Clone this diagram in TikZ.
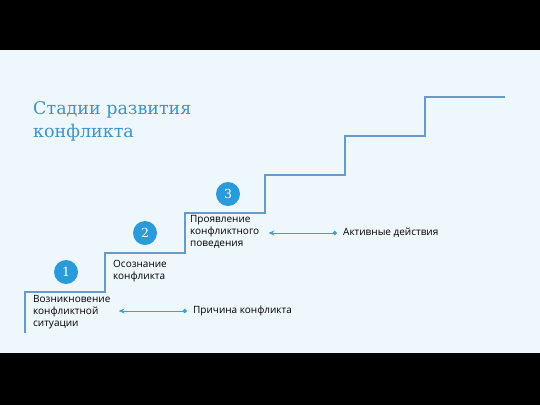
\documentclass[tikz,border=0pt]{standalone}
\usepackage{fontspec}
\setmainfont{Open Sans}
\newfontfamily\titlefont{DejaVu Serif}
\usetikzlibrary{arrows.meta,positioning}
\definecolor{bgcol}{HTML}{EEF8FC}
\definecolor{stair}{HTML}{6A9ACB}
\definecolor{badgecol}{HTML}{2A9BDA}
\definecolor{titlecol}{HTML}{3D94CC}
\definecolor{pointer}{HTML}{3AA3DB}
\tikzstyle{title}=[anchor=north west,inner sep=0pt,align=left,text=titlecol,font=\titlefont\fontsize{17.5}{23}\selectfont]
\tikzstyle{stage}=[anchor=north west,inner sep=0pt,align=left,font=\fontsize{10}{12}\selectfont]
\tikzstyle{cause}=[anchor=west,inner sep=0pt,font=\fontsize{10}{12}\selectfont]
\tikzstyle{badge}=[circle,fill=badgecol,text=white,inner sep=0pt,minimum size=24pt,font=\titlefont\fontsize{12.5}{12.5}\selectfont]
\tikzstyle{link}=[pointer,line width=1pt,{Circle[length=4.5pt]}-{Stealth[length=6pt,width=5pt]}]

\begin{document}
\begin{tikzpicture}[x=1pt,y=-1pt]
\fill[black] (0,0) rectangle (540,405);
\fill[bgcol] (0,50) rectangle (540,353);
% staircase
\draw[stair,line width=1.1pt]
  (25,333) -- (25,292)
   -- (105,292) -- (105,253)
   -- (185,253) -- (185,213)
   -- (265,213) -- (265,175)
   -- (345,175) -- (345,136)
   -- (425,136) -- (425,97)
   -- (505,97);
\node[title] (head) at (33,101) {Стадии развития\\конфликта};
% stages
\node[stage] (s1) at (33,295) {Возникновение\\конфликтной\\ситуации};
\node[stage] (s2) at (113,260) {Осознание\\конфликта};
\node[stage] (s3) at (190,215) {Проявление\\конфликтного\\поведения};
\node[badge] (b1) at (66,272) {1};
\node[badge] (b2) at (145,233) {2};
\node[badge] (b3) at (228,194) {3};
% causes
\node[cause] (c1) at (193,311) {Причина конфликта};
\node[cause] (c2) at (343,233) {Активные действия};
\draw[link] ([xshift=-6pt]c1.west) -- ([xshift=8pt]c1.west -| s1.east);
\draw[link] ([xshift=-6pt]c2.west) -- ([xshift=9pt]c2.west -| s3.east);
\end{tikzpicture}
\end{document}
